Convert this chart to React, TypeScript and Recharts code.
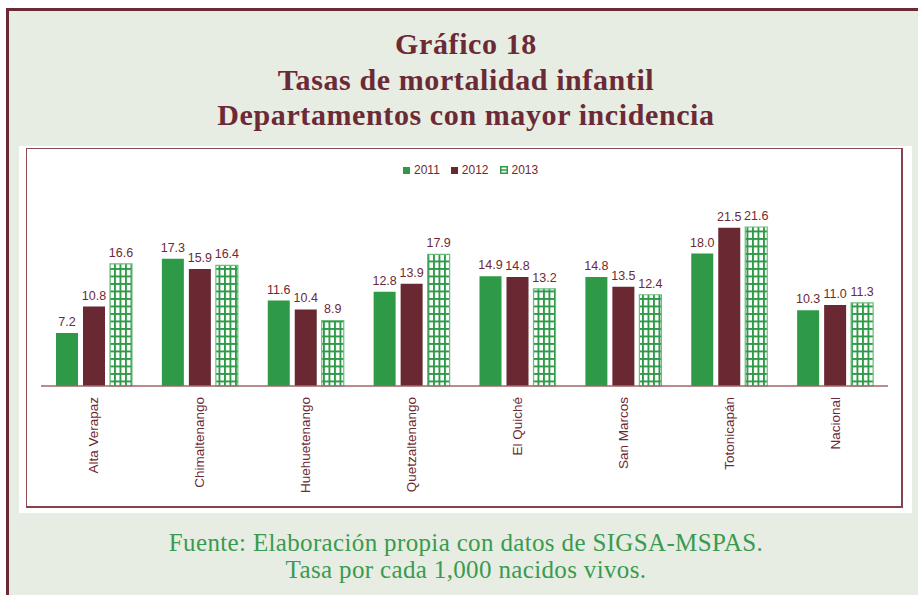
import React from 'react';
import { BarChart, Bar, XAxis, YAxis, LabelList, Legend } from 'recharts';

const categories = ['Alta Verapaz', 'Chimaltenango', 'Huehuetenango', 'Quetzaltenango', 'El Quiché', 'San Marcos', 'Totonicapán', 'Nacional'];
const values2011 = [7.2, 17.3, 11.6, 12.8, 14.9, 14.8, 18.0, 10.3];
const values2012 = [10.8, 15.9, 10.4, 13.9, 14.8, 13.5, 21.5, 11.0];
const values2013 = [16.6, 16.4, 8.9, 17.9, 13.2, 12.4, 21.6, 11.3];
const seriesNames = ['2011', '2012', '2013'];

const data = categories.map((c, i) => ({
  name: c,
  y2011: values2011[i],
  y2012: values2012[i],
  y2013: values2013[i],
}));

const GREEN = '#2e9a48';
const MAROON = '#6a2932';
const TEXT = '#6b2a35';
const FONT = '"Liberation Sans", Arial, sans-serif';

const RotTick = (props: any) => {
  const { x, y, payload } = props;
  const ty = y + 11;
  return (
    <text
      x={x}
      y={ty}
      transform={`rotate(-90, ${x}, ${ty})`}
      textAnchor="end"
      dominantBaseline="central"
      fontFamily={FONT}
      fontSize={13.5}
      fill={TEXT}
    >
      {payload.value}
    </text>
  );
};

const LegendContent = () => {
  const item = (key: string, label: string, swatch: React.ReactNode, ml: number) => (
    <div key={key} style={{ display: 'flex', alignItems: 'center', marginLeft: ml }}>
      {swatch}
      <span style={{ marginLeft: 4, fontFamily: FONT, fontSize: 12, color: TEXT, lineHeight: '14px' }}>{label}</span>
    </div>
  );
  return (
    <div style={{ display: 'flex', alignItems: 'center' }}>
      {item('a', seriesNames[0], <div style={{ width: 7, height: 7, background: GREEN }} />, 0)}
      {item('b', seriesNames[1], <div style={{ width: 7, height: 7, background: MAROON }} />, 11)}
      {item(
        'c',
        seriesNames[2],
        <svg width={8} height={8} style={{ display: 'block' }}>
          <rect x={0.75} y={0.75} width={6.5} height={6.5} fill="#fff" stroke={GREEN} strokeWidth={1.5} />
          <line x1={0.75} y1={4} x2={7.25} y2={4} stroke={GREEN} strokeWidth={1.5} />
        </svg>,
        11
      )}
    </div>
  );
};

export default function App() {
  return (
    <div style={{ position: 'absolute', left: 0, top: 0, width: 918, height: 595, background: '#ffffff', overflow: 'hidden' }}>
      <div
        style={{
          position: 'absolute',
          left: 6,
          top: 8,
          width: 912,
          height: 587,
          background: '#e7ede3',
          borderTop: `3px solid ${TEXT}`,
          borderLeft: `3px solid ${TEXT}`,
          boxSizing: 'border-box',
        }}
      />
      <div
        style={{
          position: 'absolute',
          left: 0,
          width: 932,
          top: 26,
          textAlign: 'center',
          fontFamily: '"Liberation Serif", "Times New Roman", serif',
          fontWeight: 'bold',
          fontSize: 30,
          letterSpacing: 0.6,
          lineHeight: '35.5px',
          color: TEXT,
        }}
      >
        <div>Gráfico 18</div>
        <div>Tasas de mortalidad infantil</div>
        <div>Departamentos con mayor incidencia</div>
      </div>
      <div style={{ position: 'absolute', left: 19, top: 146, width: 893, height: 367, background: '#ffffff' }} />
      <div
        style={{
          position: 'absolute',
          left: 26,
          top: 148,
          width: 877,
          height: 360,
          boxSizing: 'border-box',
          borderTop: '1px solid #8e4c55',
          borderLeft: '1px solid #8e4c55',
          borderRight: '2px solid #86424b',
          borderBottom: '2px solid #86424b',
        }}
      />
      <div style={{ position: 'absolute', left: 26, top: 148 }}>
        <BarChart
          width={876}
          height={359}
          data={data}
          margin={{ top: 54, right: 14, bottom: 0, left: 15 }}
          barSize={22}
          barGap={5}
        >
          <defs>
            <pattern id="grid2013" patternUnits="userSpaceOnUse" width={5.5} height={7.5}>
              <rect x={0} y={0} width={5.5} height={7.5} fill="#ffffff" />
              <rect x={0} y={0} width={1.9} height={7.5} fill={GREEN} />
              <rect x={0} y={0} width={5.5} height={1.9} fill={GREEN} />
            </pattern>
          </defs>
          <XAxis
            dataKey="name"
            height={121}
            interval={0}
            tickLine={false}
            tickSize={0}
            tickMargin={0}
            axisLine={{ stroke: '#a0646a', strokeWidth: 1.5 }}
            tick={<RotTick />}
          />
          <YAxis hide domain={[0, 25]} />
          <Legend
            verticalAlign="middle"
            align="center"
            content={<LegendContent />}
            wrapperStyle={{ top: 15, left: 377, width: 160 }}
          />
          <Bar dataKey="y2011" name={seriesNames[0]} fill={GREEN} isAnimationActive={false}>
            <LabelList
              dataKey="y2011"
              position="top"
              offset={7}
              fill={TEXT}
              fontSize={12.5}
              fontFamily={FONT}
              formatter={(v: any) => Number(v).toFixed(1)}
            />
          </Bar>
          <Bar dataKey="y2012" name={seriesNames[1]} fill={MAROON} isAnimationActive={false}>
            <LabelList
              dataKey="y2012"
              position="top"
              offset={7}
              fill={TEXT}
              fontSize={12.5}
              fontFamily={FONT}
              formatter={(v: any) => Number(v).toFixed(1)}
            />
          </Bar>
          <Bar
            dataKey="y2013"
            name={seriesNames[2]}
            fill="url(#grid2013)"
            stroke="#6cbc7e"
            strokeWidth={1.2}
            isAnimationActive={false}
          >
            <LabelList
              dataKey="y2013"
              position="top"
              offset={7}
              fill={TEXT}
              fontSize={12.5}
              fontFamily={FONT}
              formatter={(v: any) => Number(v).toFixed(1)}
            />
          </Bar>
        </BarChart>
      </div>
      <div
        style={{
          position: 'absolute',
          left: 0,
          width: 932,
          top: 529,
          textAlign: 'center',
          fontFamily: '"Liberation Serif", "Times New Roman", serif',
          fontSize: 25,
          letterSpacing: 0.35,
          lineHeight: '27px',
          color: '#3a9a4f',
        }}
      >
        <div>Fuente: Elaboración propia con datos de SIGSA-MSPAS.</div>
        <div>Tasa por cada 1,000 nacidos vivos.</div>
      </div>
    </div>
  );
}
